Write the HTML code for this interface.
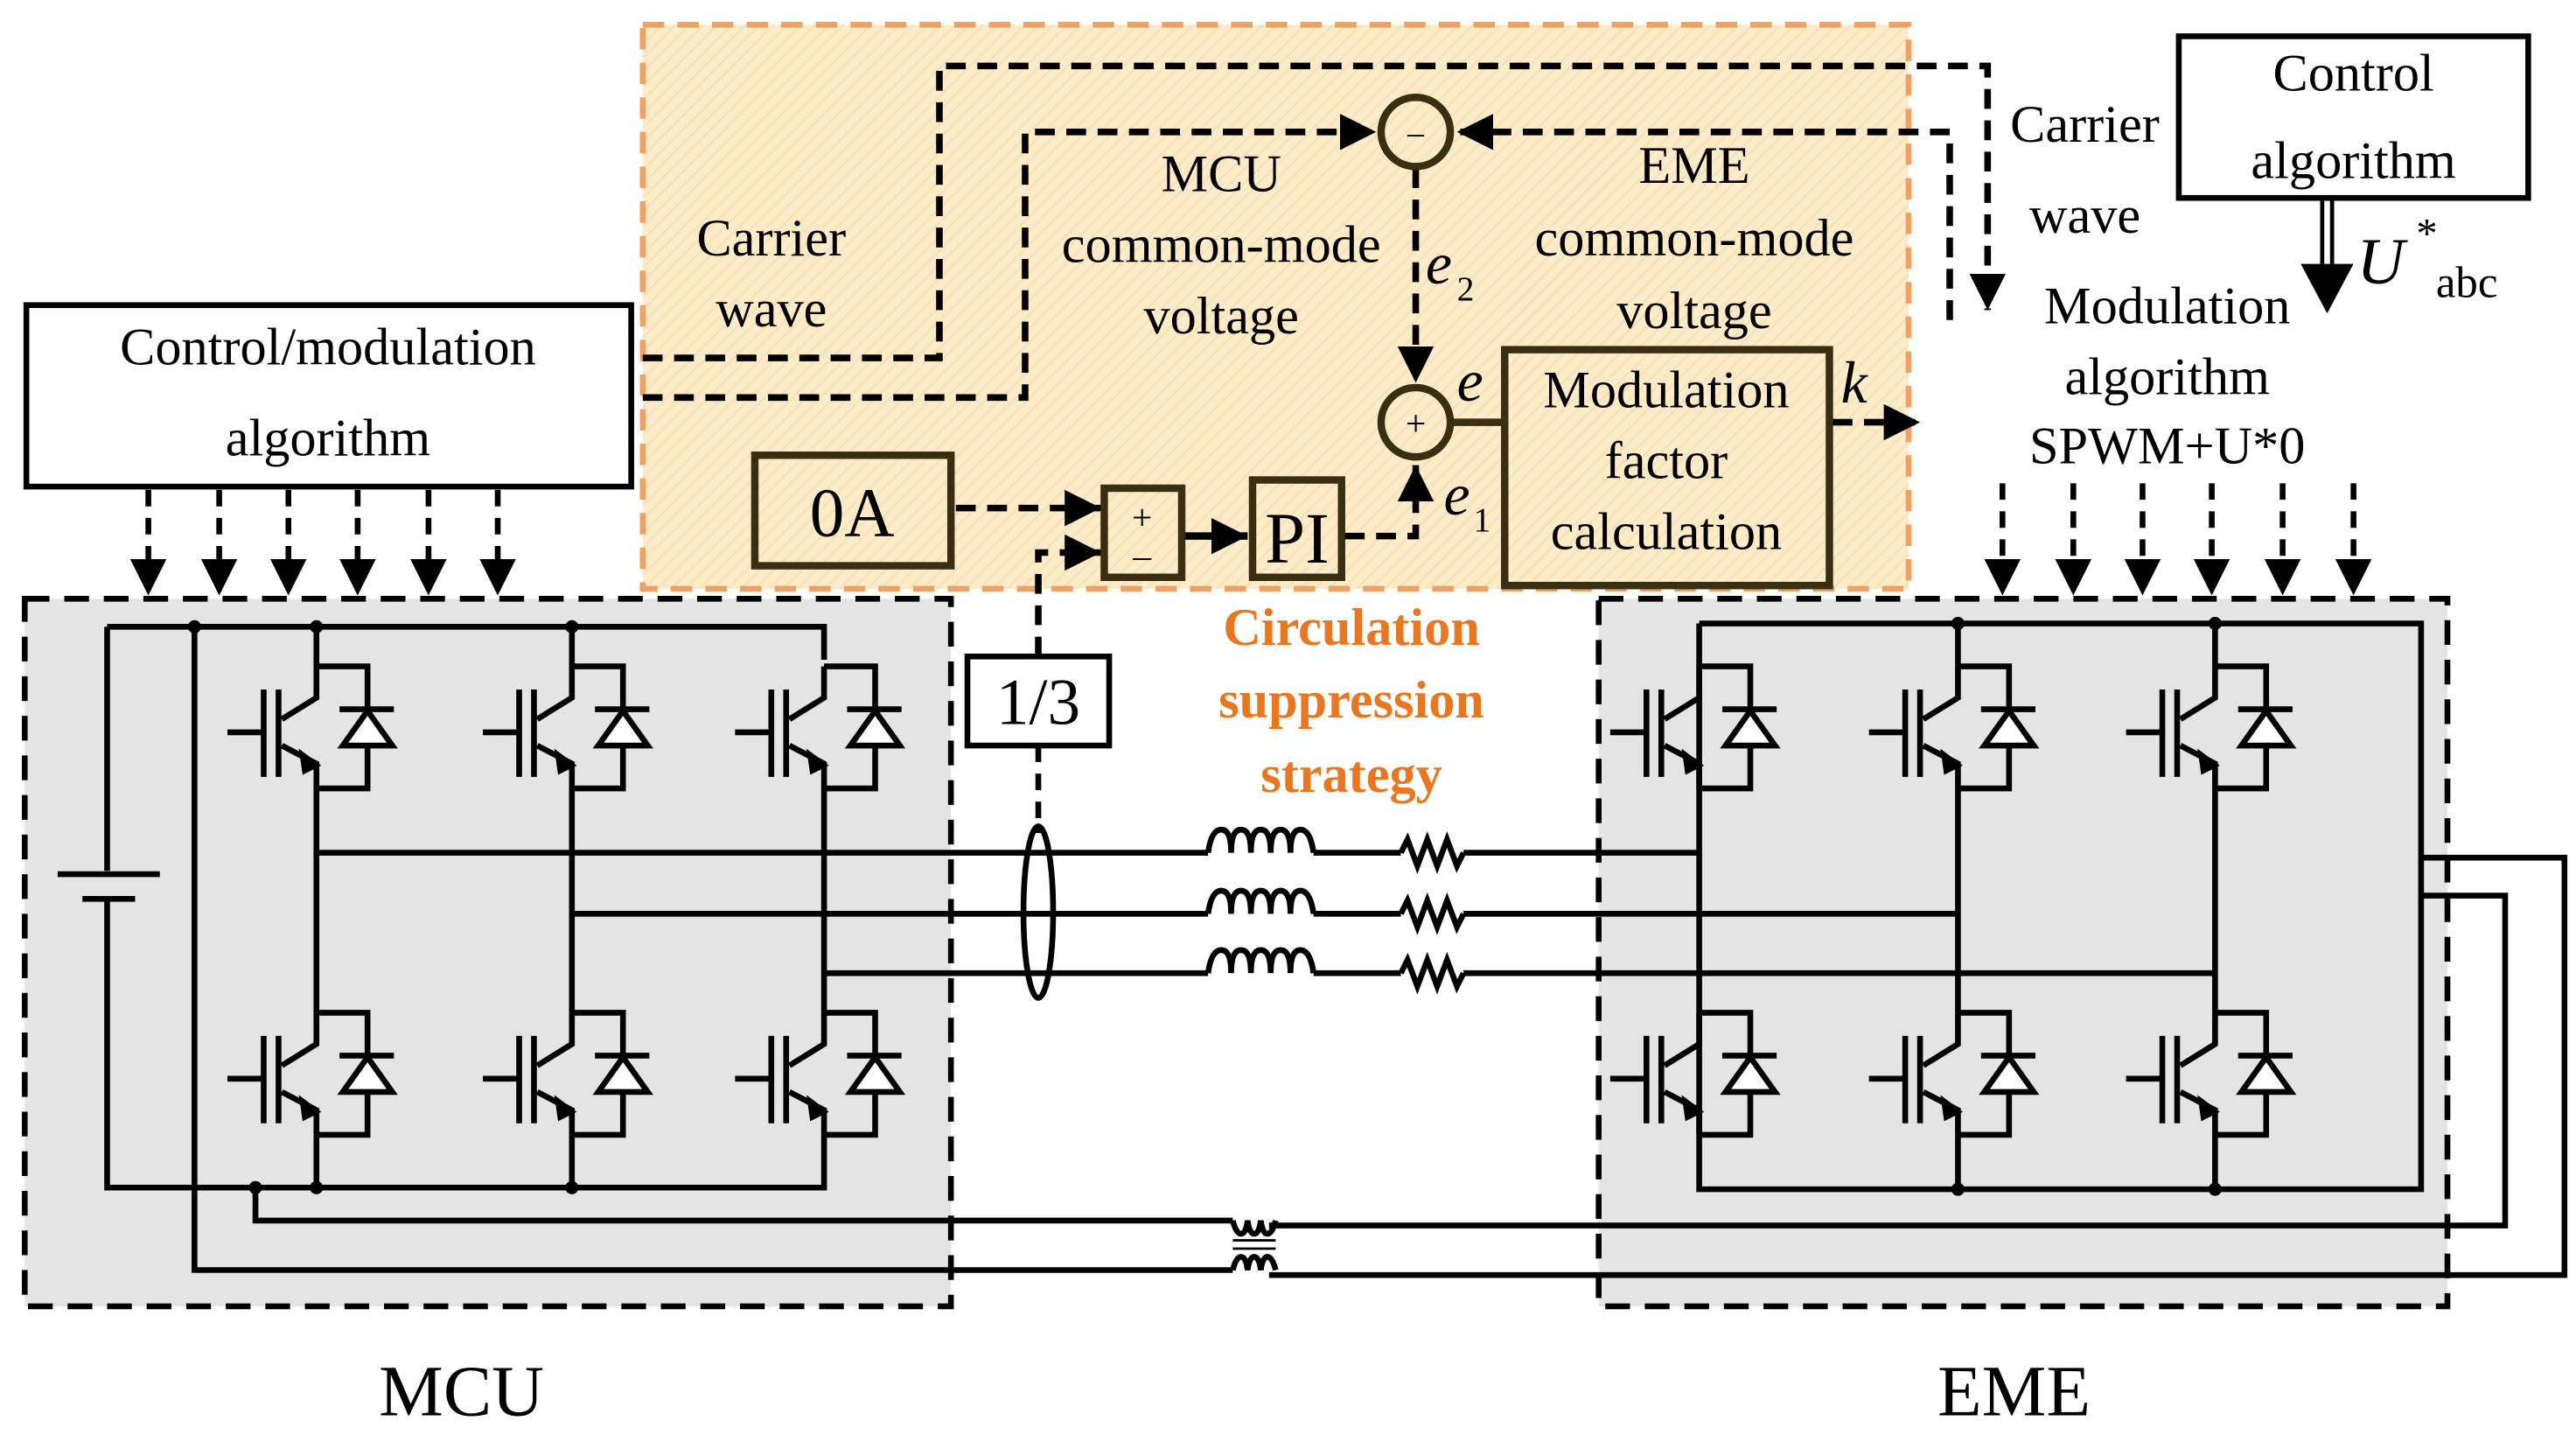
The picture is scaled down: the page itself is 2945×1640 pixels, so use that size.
<!DOCTYPE html>
<html><head><meta charset="utf-8"><style>
html,body{margin:0;padding:0;background:#fff;}
svg{display:block;font-family:"Liberation Serif","Times New Roman",serif;}
svg text{font-family:"Liberation Serif","Times New Roman",serif;}
</style></head><body>
<svg width="2945" height="1640" viewBox="0 0 1563 870" preserveAspectRatio="none" xmlns="http://www.w3.org/2000/svg" font-family="Liberation Serif, serif">
<defs>
<pattern id="hatch" width="6" height="6" patternUnits="userSpaceOnUse" patternTransform="rotate(45)">
<rect width="6" height="6" fill="#fdebc9"/><line x1="0" y1="0" x2="0" y2="6" stroke="#f8dfb4" stroke-width="2"/>
</pattern>
<marker id="ab" viewBox="0 0 10 10" markerWidth="22" markerHeight="22" refX="10" refY="5" orient="auto" markerUnits="userSpaceOnUse"><path d="M0,0 L10,5 L0,10z" fill="#000"/></marker>
<g id="sw" stroke="#000" stroke-width="3.5" fill="none">
<path d="M0,-40 V-21 L-21,-8"/>
<path d="M-21,8 L0,19 V34"/>
<path d="M-10,11 L2,20 L-8,25z" fill="#000" stroke-width="1"/>
<line x1="-23" y1="-26" x2="-23" y2="27"/>
<line x1="-32" y1="-26" x2="-32" y2="27"/>
<line x1="-54" y1="0" x2="-32" y2="0"/>
<path d="M0,-40 H31 V-14 M14,-14 H47 M31,8 V34 H0"/>
<path d="M31,-13 L16,8 H46z" fill="#fff"/>
</g>
</defs>

<rect x="390" y="15" width="768" height="342" fill="url(#hatch)" stroke="#f0a060" stroke-width="3.5" stroke-dasharray="13,8"/>

<rect x="15" y="363" width="562" height="429" fill="#e4e4e4" stroke="#000" stroke-width="3.5" stroke-dasharray="15,9"/>
<rect x="970" y="363" width="515" height="429" fill="#e4e4e4" stroke="#000" stroke-width="3.5" stroke-dasharray="15,9"/>

<rect x="16" y="185" width="367" height="110" fill="#fff" stroke="#000" stroke-width="3.5"/>
<text x="199" y="221" font-size="32" text-anchor="middle">Control/modulation</text>
<text x="199" y="276" font-size="32" text-anchor="middle">algorithm</text>
<rect x="1322" y="22" width="212" height="98" fill="#fff" stroke="#000" stroke-width="3.5"/>
<text x="1428" y="55" font-size="32" text-anchor="middle">Control</text>
<text x="1428" y="108" font-size="32" text-anchor="middle">algorithm</text>

<line x1="1409" y1="120" x2="1409" y2="160" stroke="#000" stroke-width="2.5"/>
<line x1="1415" y1="120" x2="1415" y2="160" stroke="#000" stroke-width="2.5"/>
<path d="M1396,160 H1428 L1412,190z" fill="#000"/>
<text x="1430" y="172" font-size="40" font-style="italic">U</text>
<text x="1466" y="150" font-size="26">*</text>
<text x="1478" y="180" font-size="27">abc</text>

<text x="1265" y="86" font-size="32" text-anchor="middle">Carrier</text>
<text x="1265" y="141" font-size="32" text-anchor="middle">wave</text>
<text x="1315" y="196" font-size="32" text-anchor="middle">Modulation</text>
<text x="1315" y="239" font-size="32" text-anchor="middle">algorithm</text>
<text x="1315" y="281" font-size="32" text-anchor="middle">SPWM+U*0</text>

<g stroke="#000" stroke-width="3.5" stroke-dasharray="10,7" marker-end="url(#ab)" fill="none">
<line x1="90" y1="297" x2="90" y2="361"/><line x1="133" y1="297" x2="133" y2="361"/><line x1="175" y1="297" x2="175" y2="361"/>
<line x1="217" y1="297" x2="217" y2="361"/><line x1="260" y1="297" x2="260" y2="361"/><line x1="302" y1="297" x2="302" y2="361"/>
<line x1="1215" y1="293" x2="1215" y2="361"/><line x1="1258" y1="293" x2="1258" y2="361"/><line x1="1300" y1="293" x2="1300" y2="361"/>
<line x1="1342" y1="293" x2="1342" y2="361"/><line x1="1385" y1="293" x2="1385" y2="361"/><line x1="1428" y1="293" x2="1428" y2="361"/>
</g>

<g stroke="#000" stroke-width="4" stroke-dasharray="12,7" fill="none">
<path d="M390,217 H570 V40 H1206 V188" marker-end="url(#ab)"/>
<path d="M390,241 H622 V80 H835" marker-end="url(#ab)"/>
<path d="M1183,194 V80 H884" marker-end="url(#ab)"/>
<path d="M859,102 V232" marker-end="url(#ab)"/>
<path d="M580,308 H668" marker-end="url(#ab)"/>
<path d="M630,398 V335 H668" marker-end="url(#ab)"/>
<path d="M816,325 H859 V282" marker-end="url(#ab)"/>
<path d="M1112,256 H1165" marker-end="url(#ab)"/>
</g>
<line x1="630" y1="452" x2="630" y2="505" stroke="#000" stroke-width="3.5" stroke-dasharray="10,7"/>
<line x1="719" y1="325" x2="757" y2="325" stroke="#000" stroke-width="4.5" marker-end="url(#ab)"/>
<line x1="882" y1="256" x2="913" y2="256" stroke="#3a2e10" stroke-width="4.5"/>

<g stroke="#3a2e10" stroke-width="4.5" fill="none">
<rect x="458" y="276" width="119" height="67"/>
<rect x="670" y="296" width="47" height="54"/>
<rect x="760" y="291" width="54" height="59"/>
<rect x="913" y="212" width="197" height="143"/>
<circle cx="859" cy="80" r="21"/>
<circle cx="859" cy="256" r="21"/>
</g>
<text x="517" y="325" font-size="42" text-anchor="middle">0A</text>
<text x="693" y="321" font-size="22" text-anchor="middle">+</text>
<text x="693" y="344" font-size="22" text-anchor="middle">–</text>
<text x="787" y="341" font-size="44" text-anchor="middle">PI</text>
<text x="859" y="87" font-size="20" text-anchor="middle">–</text>
<text x="859" y="264" font-size="22" text-anchor="middle">+</text>
<text x="1011" y="247" font-size="32" text-anchor="middle">Modulation</text>
<text x="1011" y="290" font-size="32" text-anchor="middle">factor</text>
<text x="1011" y="333" font-size="32" text-anchor="middle">calculation</text>
<text x="1117" y="244" font-size="36" font-style="italic">k</text>
<text x="884" y="243" font-size="36" font-style="italic">e</text>
<text x="865" y="172" font-size="36" font-style="italic">e</text><text x="884" y="182" font-size="21">2</text>
<text x="876" y="312" font-size="36" font-style="italic">e</text><text x="894" y="322" font-size="21">1</text>

<text x="468" y="155" font-size="32" text-anchor="middle">Carrier</text>
<text x="468" y="198" font-size="32" text-anchor="middle">wave</text>
<text x="741" y="116" font-size="32" text-anchor="middle">MCU</text>
<text x="741" y="159" font-size="32" text-anchor="middle">common-mode</text>
<text x="741" y="202" font-size="32" text-anchor="middle">voltage</text>
<text x="1028" y="111" font-size="32" text-anchor="middle">EME</text>
<text x="1028" y="155" font-size="32" text-anchor="middle">common-mode</text>
<text x="1028" y="199" font-size="32" text-anchor="middle">voltage</text>

<rect x="587" y="398" width="86" height="54" fill="#fff" stroke="#000" stroke-width="3.5"/>
<text x="630" y="439" font-size="40" text-anchor="middle">1/3</text>

<g fill="#e87722" font-weight="bold" font-size="32" text-anchor="middle">
<text x="820" y="391">Circulation</text>
<text x="820" y="435">suppression</text>
<text x="820" y="480">strategy</text>
</g>

<g stroke="#000" stroke-width="3.5" fill="none">
<path d="M65,380 H500 V400"/>
<path d="M65,380 V528 M65,545 V720 H500 V688"/>
<line x1="35" y1="530" x2="97" y2="530"/>
<line x1="50" y1="545" x2="82" y2="545"/>
<path d="M118,380 V770 H748"/>
<path d="M155,720 V740 H748"/>
<path d="M192,380 V404 M192,478 V614 M192,688 V720"/>
<path d="M347,380 V404 M347,478 V614 M347,688 V720"/>
<path d="M500,478 V614"/>
<path d="M192,517 H733 M347,554 H733 M500,590 H733"/>
<path d="M797,517 H850 M797,554 H850 M797,590 H850"/>
<path d="M888,517 H1031 M888,554 H1188 M888,590 H1344"/>
<path d="M733,517 q2,-14 8,-14 q6,0 6,14 q0,-14 6,-14 q6,0 6,14 q0,-14 6,-14 q6,0 6,14 q0,-14 6,-14 q6,0 6,14 q0,-14 6,-14 q6,0 8,14"/>
<path d="M733,554 q2,-14 8,-14 q6,0 6,14 q0,-14 6,-14 q6,0 6,14 q0,-14 6,-14 q6,0 6,14 q0,-14 6,-14 q6,0 6,14 q0,-14 6,-14 q6,0 8,14"/>
<path d="M733,590 q2,-14 8,-14 q6,0 6,14 q0,-14 6,-14 q6,0 6,14 q0,-14 6,-14 q6,0 6,14 q0,-14 6,-14 q6,0 6,14 q0,-14 6,-14 q6,0 8,14"/>
<path d="M850,517 l4,-8 l6,16 l6,-16 l6,16 l6,-16 l6,16 l4,-8"/>
<path d="M850,554 l4,-8 l6,16 l6,-16 l6,16 l6,-16 l6,16 l4,-8"/>
<path d="M850,590 l4,-8 l6,16 l6,-16 l6,16 l6,-16 l6,16 l4,-8"/>
<ellipse cx="630" cy="553" rx="9" ry="52"/>
<path d="M1031,378 H1469 V721 H1031 V378"/>
<path d="M1188,378 V404 M1188,478 V614 M1188,688 V721"/>
<path d="M1344,378 V404 M1344,478 V614 M1344,688 V721"/>
<path d="M1469,520 H1556 V773 H770"/>
<path d="M1469,543 H1520 V743 H770"/>
<path d="M748,740 q2,8 5,8 q3,0 4,-8 q1,8 4,8 q3,0 4,-8 q1,8 4,8 q3,0 5,-8"/>
<path d="M748,770 q2,-8 5,-8 q3,0 4,8 q1,-8 4,-8 q3,0 4,8 q1,-8 4,-8 q3,0 5,8"/>
<line x1="748" y1="752" x2="774" y2="752" stroke-width="1.5"/>
<line x1="748" y1="757" x2="774" y2="757" stroke-width="1.5"/>
</g>
<g fill="#000">
<circle cx="118" cy="380" r="4"/><circle cx="192" cy="380" r="4"/><circle cx="347" cy="380" r="4"/>
<circle cx="155" cy="720" r="4"/><circle cx="192" cy="720" r="4"/><circle cx="347" cy="720" r="4"/>
<circle cx="1188" cy="378" r="4"/><circle cx="1344" cy="378" r="4"/>
<circle cx="1188" cy="721" r="4"/><circle cx="1344" cy="721" r="4"/>
</g>
<use href="#sw" x="192" y="444"/><use href="#sw" x="347" y="444"/><use href="#sw" x="500" y="444"/>
<use href="#sw" x="192" y="654"/><use href="#sw" x="347" y="654"/><use href="#sw" x="500" y="654"/>
<use href="#sw" x="1031" y="444"/><use href="#sw" x="1188" y="444"/><use href="#sw" x="1344" y="444"/>
<use href="#sw" x="1031" y="654"/><use href="#sw" x="1188" y="654"/><use href="#sw" x="1344" y="654"/>

<text x="280" y="858" font-size="44" text-anchor="middle">MCU</text>
<text x="1222" y="858" font-size="44" text-anchor="middle">EME</text>
</svg>
</body></html>
